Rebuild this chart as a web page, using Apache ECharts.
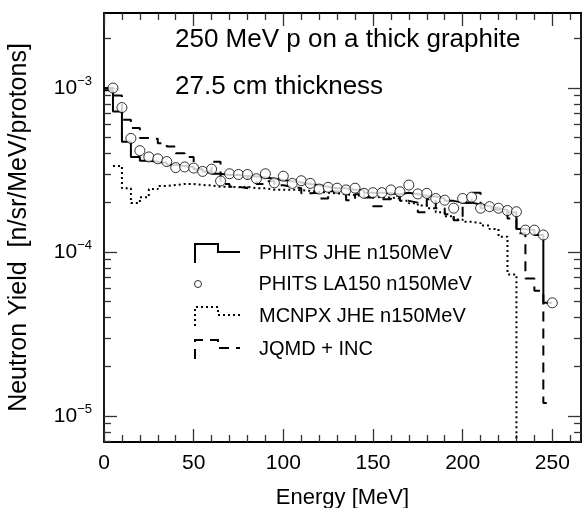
<!DOCTYPE html>
<html><head><meta charset="utf-8">
<script src="https://cdn.jsdelivr.net/npm/echarts@6/dist/echarts.min.js"></script>
<style>html,body{margin:0;padding:0;background:#fff}#c{width:583px;height:508px}</style>
</head><body><div id="c"></div>
<script>
// ---------------- data ----------------
const binLowEdges = [0,5,10,15,20,25,30,35,40,45,50,55,60,65,70,75,80,85,90,95,100,105,110,115,120,125,130,135,140,145,150,155,160,165,170,175,180,185,190,195,200,205,210,215,220,225,230,235,240,245];
const lastEdge = 250;
const phitsJHE = [9.7e-4,7.2e-4,4.7e-4,3.8e-4,3.6e-4,3.55e-4,3.5e-4,3.4e-4,3.35e-4,3.3e-4,
  3.2e-4,3.1e-4,3.0e-4,2.95e-4,2.95e-4,2.9e-4,2.9e-4,2.85e-4,2.8e-4,2.75e-4,
  2.7e-4,2.65e-4,2.6e-4,2.55e-4,2.5e-4,2.45e-4,2.45e-4,2.4e-4,2.38e-4,2.3e-4,
  2.3e-4,2.28e-4,2.25e-4,2.3e-4,2.25e-4,2.2e-4,2.18e-4,2.12e-4,2.05e-4,2.0e-4,
  2.0e-4,1.95e-4,1.9e-4,1.85e-4,1.8e-4,1.75e-4,1.38e-4,1.36e-4,1.27e-4,4.9e-5];
const la150Energy = [5,10,15,20,25,30,35,40,45,50,55,60,65,70,75,80,85,90,95,100,105,110,115,120,125,130,135,140,145,150,155,160,165,170,175,180,185,190,195,200,205,210,215,220,225,230,235,240,245,250];
const la150Yield = [1.0e-3,7.6e-4,4.93e-4,4.15e-4,3.8e-4,3.7e-4,3.56e-4,3.27e-4,3.3e-4,3.25e-4,
  3.1e-4,3.2e-4,2.71e-4,3.0e-4,2.97e-4,2.97e-4,2.8e-4,3.0e-4,2.64e-4,2.9e-4,
  2.62e-4,2.72e-4,2.62e-4,2.42e-4,2.48e-4,2.45e-4,2.39e-4,2.45e-4,2.28e-4,2.3e-4,
  2.3e-4,2.39e-4,2.33e-4,2.56e-4,2.26e-4,2.28e-4,2.12e-4,2.07e-4,1.85e-4,2.12e-4,
  2.16e-4,1.85e-4,1.89e-4,1.85e-4,1.79e-4,1.76e-4,1.36e-4,1.36e-4,1.27e-4,4.9e-5];
const mcnpxLowEdges = [5,10,15,20,25,30,35,40,45,50,55,60,65,70,75,80,85,90,95,100,105,110,115,120,125,130,135,140,145,150,155,160,165,170,175,180,185,190,195,200,205,210,215,220,225];
const mcnpxEndEdge = 230;
const mcnpxYield = [3.35e-4,2.45e-4,1.99e-4,2.16e-4,2.42e-4,2.53e-4,2.56e-4,2.6e-4,2.6e-4,2.56e-4,
  2.55e-4,2.5e-4,2.5e-4,2.48e-4,2.5e-4,2.45e-4,2.45e-4,2.4e-4,2.4e-4,2.4e-4,
  2.38e-4,2.36e-4,2.33e-4,2.3e-4,2.28e-4,2.25e-4,2.22e-4,2.2e-4,2.18e-4,2.15e-4,
  2.15e-4,2.12e-4,2.05e-4,1.98e-4,1.92e-4,1.85e-4,1.75e-4,1.65e-4,1.58e-4,1.53e-4,
  1.5e-4,1.45e-4,1.38e-4,1.24e-4,7.3e-5];
const mcnpxAboveEnd = 1e-9; // yield is zero above 230 MeV: the step falls below the axis
const jqmdYield = [1.0e-3,9.0e-4,6.4e-4,5.7e-4,4.95e-4,4.9e-4,4.6e-4,4.4e-4,4.0e-4,3.8e-4,
  3.2e-4,3.05e-4,3.55e-4,2.6e-4,2.5e-4,2.45e-4,2.9e-4,2.6e-4,2.7e-4,2.55e-4,
  2.5e-4,2.45e-4,2.28e-4,2.3e-4,2.12e-4,2.35e-4,2.3e-4,2.07e-4,2.25e-4,2.15e-4,
  1.9e-4,2.1e-4,2.2e-4,2.05e-4,2.0e-4,1.75e-4,2.1e-4,1.85e-4,1.7e-4,1.56e-4,
  2.0e-4,2.3e-4,1.85e-4,1.8e-4,1.78e-4,1.6e-4,1.3e-4,6.9e-5,5.8e-5,1.2e-5];
const seriesNames = ['PHITS JHE n150MeV','PHITS LA150 n150MeV','MCNPX JHE n150MeV','JQMD + INC'];
const xTickLabels = [0,50,100,150,200,250];
const yTickExponents = [-5,-4,-3];
const titleLines = ['250 MeV p on a thick graphite','27.5 cm thickness'];

// ---------------- layout / style ----------------
const FONT = 'Liberation Sans, Arial, Helvetica, sans-serif';
const X_MIN = 0, X_MAX = 266;
const LOG_MIN = -5.1585, LOG_MAX = -2.5427;
const GRID = {left:104, right:2, top:13, bottom:66, containLabel:false, outerBoundsMode:'none'};

const xMinor = [];
for (let v = 10; v <= X_MAX; v += 10) if (v % 50 !== 0) xMinor.push(v);
const yMinor = [];
for (let e = -6; e <= -3; e++) for (let m = 2; m <= 9; m++) {
  const l = e + Math.log10(m);
  if (l > LOG_MIN && l < LOG_MAX) yMinor.push(l);
}

const hist = (edges, vals, endEdge, endVal) => edges.map((e,i)=>[e, vals[i]]).concat([[endEdge, endVal]]);

const tickStyle = {color:'#333', width:1.3};
const lineAx = {show:true, onZero:false, lineStyle:{color:'#000', width:1.8}};
const noLine = {show:false, onZero:false};

function xAx(gi, pos, ticks, len, opts) {
  return Object.assign({
    type:'value', gridIndex:gi, position:pos, min:X_MIN, max:X_MAX,
    axisLine: gi===0 ? lineAx : noLine,
    axisTick:{show:true, inside:true, length:len, customValues:ticks, lineStyle:tickStyle},
    axisLabel:{show:false}, splitLine:{show:false}
  }, opts||{});
}
function yAx(gi, pos, ticks, len, opts) {
  return Object.assign({
    type:'value', gridIndex:gi, position:pos, min:LOG_MIN, max:LOG_MAX,
    axisLine: gi===0 ? lineAx : noLine,
    axisTick:{show:true, inside:true, length:len, customValues:ticks, lineStyle:tickStyle},
    axisLabel:{show:false}, splitLine:{show:false}
  }, opts||{});
}

const legendBase = (name, top, icon, w, h, itemStyle, padLeft) => ({
  data:[{name:name, icon:icon, itemStyle:itemStyle}],
  left:194, top:top, orient:'vertical', padding:0,
  itemWidth:w, itemHeight:h, selectedMode:false,
  textStyle:{fontSize:20, fontFamily:FONT, color:'#000', padding:[0,0,0,padLeft]}
});
const stepIcon = 'path://M0,19L0,0L23,0L23,8L45,8';

const chart = echarts.init(document.getElementById('c'), null, {renderer:'canvas'});
chart.setOption({
  animation:false,
  backgroundColor:'#fff',
  title: titleLines.map((t,i)=>({text:t, left:175, top: i===0 ? 27 : 74, padding:0,
    textStyle:{fontSize:26, fontWeight:'normal', fontFamily:FONT, color:'#000'}})),
  grid:[GRID, GRID, GRID],
  xAxis:[
    xAx(0,'bottom',xTickLabels,13,{
      axisLabel:{show:true, customValues:xTickLabels, margin:11, fontSize:21, fontFamily:FONT, color:'#000'},
      name:'Energy [MeV]', nameLocation:'middle', nameGap:45,
      nameTextStyle:{fontSize:22, fontFamily:FONT, color:'#000'}
    }),
    xAx(0,'top',xTickLabels,13),
    xAx(1,'bottom',xMinor,7),
    xAx(1,'top',xMinor,7),
    {type:'value', gridIndex:2, min:X_MIN, max:X_MAX, show:false, axisLine:{onZero:false}}
  ],
  yAxis:[
    yAx(0,'left',yTickExponents,13,{
      axisLabel:{show:true, customValues:yTickExponents, margin:12,
        formatter:v=>'{b|10}{s|\u2212'+Math.round(Math.abs(v))+'}',
        rich:{b:{fontSize:21, fontFamily:FONT, color:'#000', lineHeight:26},
              s:{fontSize:13, fontFamily:FONT, color:'#000', lineHeight:14, verticalAlign:'top'}}},
      name:'Neutron Yield  [n/sr/MeV/protons]', nameLocation:'middle', nameGap:72,
      nameTextStyle:{fontSize:25, fontFamily:FONT, color:'#000'}
    }),
    yAx(0,'right',yTickExponents,13),
    yAx(1,'left',yMinor,7),
    yAx(1,'right',yMinor,7),
    {type:'log', gridIndex:2, min:Math.pow(10,LOG_MIN), max:Math.pow(10,LOG_MAX), show:false, axisLine:{onZero:false}}
  ],
  legend:[
    legendBase(seriesNames[0], 243, stepIcon, 45, 19, {color:'rgba(0,0,0,0)', borderColor:'#000', borderWidth:2}, 14),
    legendBase(seriesNames[1], 274, 'circle', 7, 7, {color:'#fff', borderColor:'#000', borderWidth:1}, 52),
    legendBase(seriesNames[2], 306, stepIcon, 45, 19, {color:'rgba(0,0,0,0)', borderColor:'#000', borderWidth:2, borderType:[2,3]}, 14),
    legendBase(seriesNames[3], 339, stepIcon, 45, 19, {color:'rgba(0,0,0,0)', borderColor:'#000', borderWidth:2, borderType:[10,7]}, 14)
  ],
  series:[
    {name:seriesNames[2], type:'line', xAxisIndex:4, yAxisIndex:4, step:'end', symbol:'none', z:3,
     lineStyle:{color:'#000', width:2, type:[2,3]}, itemStyle:{color:'#000'},
     data:hist(mcnpxLowEdges, mcnpxYield, mcnpxEndEdge, mcnpxAboveEnd)},
    {name:seriesNames[3], type:'line', xAxisIndex:4, yAxisIndex:4, step:'end', symbol:'none', z:3,
     lineStyle:{color:'#000', width:2, type:[10,7]}, itemStyle:{color:'#000'},
     data:hist(binLowEdges, jqmdYield, lastEdge, jqmdYield[jqmdYield.length-1])},
    {name:seriesNames[0], type:'line', xAxisIndex:4, yAxisIndex:4, step:'end', symbol:'none', z:4,
     lineStyle:{color:'#000', width:2}, itemStyle:{color:'#000'},
     data:hist(binLowEdges, phitsJHE, lastEdge, phitsJHE[phitsJHE.length-1])},
    {name:seriesNames[1], type:'scatter', xAxisIndex:4, yAxisIndex:4, symbol:'circle', symbolSize:10, z:5,
     itemStyle:{color:'#fff', borderColor:'#000', borderWidth:1},
     data:la150Energy.map((e,i)=>[e, la150Yield[i]])}
  ]
});
</script></body></html>
